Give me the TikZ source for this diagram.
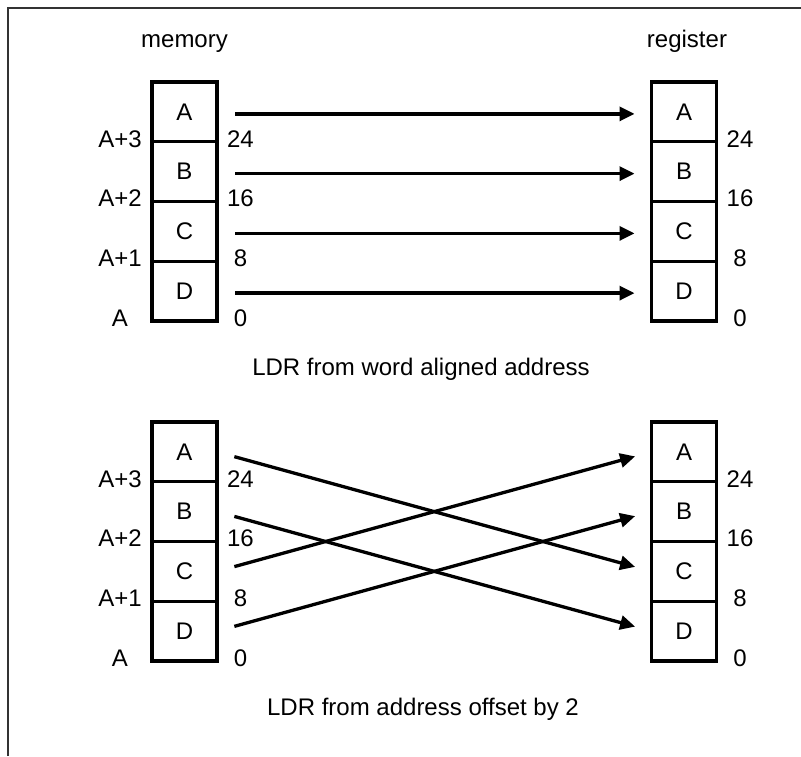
\documentclass[tikz,border=0pt]{standalone}
\usepackage{fontspec}
\setmainfont{Liberation Sans}
\usetikzlibrary{arrows.meta}
\begin{document}
\begin{tikzpicture}[x=1pt,y=-1pt,
  every node/.style={font=\fontsize{24}{28}\selectfont, inner sep=0pt, outer sep=0pt},
  cell/.style={draw, line width=3.3pt, minimum width=65pt, minimum height=59.75pt, anchor=north},
  lbl/.style={anchor=center},
  captext/.style={anchor=base},
  arr/.style={line width=3.3pt, -{Triangle[length=15pt,width=14pt]}, shorten <=18pt, shorten >=17pt},
  frame/.style={draw=black!80, line width=2pt}]
\useasboundingbox (0,0) rectangle (801,756);
\draw[frame] (8,756) -- (8,8) -- (801,8);

\node[captext] (memlbl) at (184.5,47) {memory};
\node[captext] (reglbl) at (687,47) {register};

\foreach \s/\y in {t/82, b/422}{
  \node[cell] (m\s A) at (184.5,\y) {A};
  \node[cell] (m\s B) at (m\s A.south) {B};
  \node[cell] (m\s C) at (m\s B.south) {C};
  \node[cell] (m\s D) at (m\s C.south) {D};
  \node[cell] (r\s A) at (684,\y) {A};
  \node[cell] (r\s B) at (r\s A.south) {B};
  \node[cell] (r\s C) at (r\s B.south) {C};
  \node[cell] (r\s D) at (r\s C.south) {D};
  \node[lbl] (ma3\s) at ([shift={(-64.5,-3)}]m\s A.south) {A+3};
  \node[lbl] (ma2\s) at ([shift={(-64.5,-3)}]m\s B.south) {A+2};
  \node[lbl] (ma1\s) at ([shift={(-64.5,-3)}]m\s C.south) {A+1};
  \node[lbl] (ma0\s) at ([shift={(-64.5,-3)}]m\s D.south) {A};
  \node[lbl] (mb3\s) at ([shift={(56,-3)}]m\s A.south) {24};
  \node[lbl] (mb2\s) at ([shift={(56,-3)}]m\s B.south) {16};
  \node[lbl] (mb1\s) at ([shift={(56,-3)}]m\s C.south) {8};
  \node[lbl] (mb0\s) at ([shift={(56,-3)}]m\s D.south) {0};
  \node[lbl] (rb3\s) at ([shift={(56,-3)}]r\s A.south) {24};
  \node[lbl] (rb2\s) at ([shift={(56,-3)}]r\s B.south) {16};
  \node[lbl] (rb1\s) at ([shift={(56,-3)}]r\s C.south) {8};
  \node[lbl] (rb0\s) at ([shift={(56,-3)}]r\s D.south) {0};
}

\draw[arr] ([yshift=-2pt]mtA.east) -- ([yshift=-2pt]rtA.west);
\draw[arr] ([yshift=-2pt]mtB.east) -- ([yshift=-2pt]rtB.west);
\draw[arr] ([yshift=-2pt]mtC.east) -- ([yshift=-2pt]rtC.west);
\draw[arr] ([yshift=-2pt]mtD.east) -- ([yshift=-2pt]rtD.west);

\node[captext] (cap1) at (421,375) {LDR from word aligned address};

\draw[arr] (mbA.east) -- (rbC.west);
\draw[arr] (mbB.east) -- (rbD.west);
\draw[arr] (mbC.east) -- (rbA.west);
\draw[arr] (mbD.east) -- (rbB.west);

\node[captext] (cap2) at (423,715) {LDR from address offset by 2};
\end{tikzpicture}
\end{document}
